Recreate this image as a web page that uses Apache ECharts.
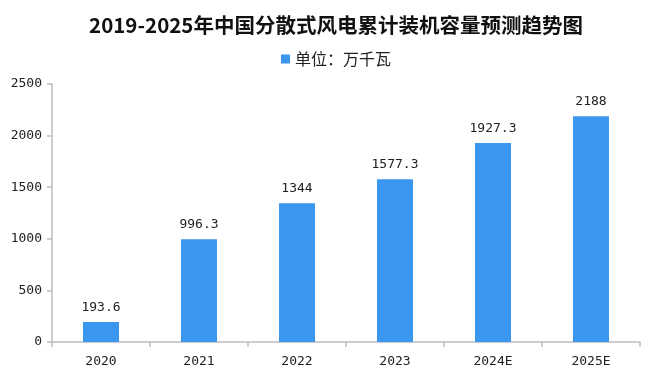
<!DOCTYPE html>
<html><head><meta charset="utf-8">
<script src="https://cdn.jsdelivr.net/npm/echarts@6/dist/echarts.min.js"></script>
<style>html,body{margin:0;padding:0;background:#fff}#c{width:672px;height:379px}</style>
</head><body><div id="c"></div>
<script>
var categories = ['2020','2021','2022','2023','2024E','2025E'];
var values = [193.6, 996.3, 1344, 1577.3, 1927.3, 2188];
var yTicks = [0, 500, 1000, 1500, 2000, 2500];
var titleText = '2019-2025年中国分散式风电累计装机容量预测趋势图';
var seriesName = '单位：万千瓦';

var chart = echarts.init(document.getElementById('c'), null, {renderer:'canvas'});
var mono = 'DejaVu Sans Mono';
chart.setOption({
  animation:false,
  backgroundColor:'#fff',
  title:{text:titleText,left:'center',top:10,
    textStyle:{fontSize:20.5,fontWeight:'bold',color:'#111',fontFamily:'Noto Sans CJK SC'}},
  legend:{data:[seriesName],top:46,left:'center',icon:'rect',itemWidth:9,itemHeight:9,itemGap:6,
    textStyle:{fontSize:16,color:'#222',fontFamily:'Noto Sans CJK SC'}},
  grid:{left:52,right:32,top:84,bottom:37,containLabel:false},
  xAxis:{type:'category',data:categories,
    axisLine:{lineStyle:{color:'#bdbdbd',width:1.5}},
    axisTick:{show:true,alignWithLabel:false,length:5,lineStyle:{color:'#bdbdbd',width:1.5}},
    axisLabel:{color:'#222',fontSize:13,fontFamily:mono,margin:13}},
  yAxis:{type:'value',min:yTicks[0],max:yTicks[yTicks.length-1],interval:yTicks[1]-yTicks[0],
    axisLine:{show:true,lineStyle:{color:'#bdbdbd',width:1.5}},
    axisTick:{show:true,length:5,lineStyle:{color:'#bdbdbd',width:1.5}},
    splitLine:{show:false},
    axisLabel:{color:'#222',fontSize:13,fontFamily:mono,margin:10,formatter:function(v){return String(v);}}},
  series:[{name:seriesName,type:'bar',data:values,barWidth:36,
    itemStyle:{color:'#3a96ee'},
    label:{show:true,position:'top',distance:8,color:'#222',fontSize:13,fontFamily:mono}}]
});
</script></body></html>
